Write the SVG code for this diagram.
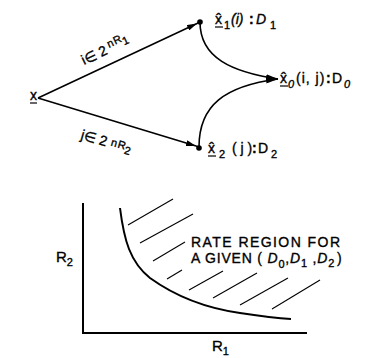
<svg xmlns="http://www.w3.org/2000/svg" width="368" height="358" viewBox="0 0 368 358">
<style>
text{font-family:"Liberation Sans",Arial,sans-serif;fill:#000;stroke:#000;stroke-width:0.35}
.lbl{font-size:14px}
.sub{font-size:11px}
.it{font-style:italic}
.edge{fill:none;stroke:#000;stroke-width:1.6}
.ax{fill:none;stroke:#000;stroke-width:2}
.hatch{stroke:#000;stroke-width:1.1}
.ul{stroke:#000;stroke-width:1.2}
</style>
<defs>
<marker id="ah" viewBox="0 0 10 6" refX="10" refY="3" markerWidth="10" markerHeight="6" markerUnits="userSpaceOnUse" orient="auto">
<path d="M0,0 L10,3 L0,6 Z" fill="#000"/>
</marker>
<marker id="ah2" viewBox="0 0 12 6" refX="12" refY="3" markerWidth="12" markerHeight="6" markerUnits="userSpaceOnUse" orient="auto">
<path d="M0,0 L12,3 L0,6 Z" fill="#000"/>
</marker>
</defs>
<g id="connectors">
<path class="edge" d="M38,98 L197,23.5" marker-end="url(#ah)"/>
<path class="edge" d="M197,23.5 L200,22"/>
<path class="edge" d="M38,98 L196,146" marker-end="url(#ah)"/>
<path class="edge" d="M196,146 L199,147"/>
<path class="edge" d="M200,22 C200,58 232,72 278,79" marker-end="url(#ah2)"/>
<path class="edge" d="M199,147 C199,105 225,86 278,79" marker-end="url(#ah2)"/>
<text class="lbl" transform="translate(84,65) rotate(-25)">i∈ 2<tspan dx="3" dy="-5" class="sub">n</tspan><tspan class="sub" dx="1">R</tspan><tspan class="sub" dy="4" font-size="9">1</tspan></text>
<text class="lbl" transform="translate(80,139) rotate(16)">j∈ 2<tspan dx="4" dy="-2" class="sub">n</tspan><tspan class="sub" dx="1">R</tspan><tspan class="sub" dy="4" font-size="9">2</tspan></text>
</g>
<g id="node-x">
<text class="lbl" x="30" y="100">x</text>
<line class="ul" x1="30" y1="103" x2="37" y2="103"/>
</g>
<g id="node-x1">
<circle cx="200" cy="22" r="2.8" fill="#000"/>
<text class="lbl" x="215" y="24">x̂</text>
<line class="ul" x1="215" y1="27" x2="223" y2="27"/>
<text class="lbl"><tspan class="sub" x="224" y="29">1</tspan><tspan class="it" x="231" y="24">(i)</tspan><tspan x="249" y="24" font-weight="bold">:</tspan><tspan class="it" x="256" y="24">D</tspan><tspan class="sub" x="270" y="29">1</tspan></text>
</g>
<g id="node-x0">
<text class="lbl" x="280" y="83">x̂</text>
<line class="ul" x1="280" y1="86" x2="288" y2="86"/>
<text class="lbl"><tspan class="sub it" x="288" y="88">0</tspan><tspan x="296" y="83" letter-spacing="1">(i, j)</tspan><tspan x="326" y="83" font-weight="bold">:</tspan><tspan x="332" y="83">D</tspan><tspan class="sub it" x="344" y="88">0</tspan></text>
</g>
<g id="node-x2">
<circle cx="199" cy="148" r="2.8" fill="#000"/>
<text class="lbl" x="208" y="153">x̂</text>
<line class="ul" x1="208" y1="156" x2="216" y2="156"/>
<text class="lbl"><tspan class="sub" x="219" y="158">2</tspan><tspan x="232" y="153">( j )</tspan><tspan x="252" y="153" font-weight="bold">:</tspan><tspan x="258" y="153">D</tspan><tspan class="sub" x="271" y="158">2</tspan></text>
</g>
<g id="chart">
<path class="ax" d="M83,203 L83,333 L307,333"/>
<path class="ax" d="M120,208 C124,240 130,262 150,278 C175,296 205,308 240,313 C260,316 275,318 291,319"/>
<line class="hatch" x1="128" y1="225" x2="173" y2="199"/>
<line class="hatch" x1="140" y1="243" x2="193" y2="214"/>
<line class="hatch" x1="153" y1="261" x2="185" y2="242"/>
<line class="hatch" x1="167" y1="279" x2="182" y2="270"/>
<line class="hatch" x1="189" y1="290" x2="223" y2="271"/>
<line class="hatch" x1="213" y1="298" x2="257" y2="273"/>
<line class="hatch" x1="240" y1="305" x2="288" y2="278"/>
<line class="hatch" x1="272" y1="309" x2="320" y2="280"/>
<text style="font-size:15px" x="56" y="262">R<tspan class="sub" dy="4">2</tspan></text>
<text style="font-size:15px" x="212" y="351">R<tspan class="sub" dy="4">1</tspan></text>
<text style="font-size:14px" x="191" y="247" textLength="149" lengthAdjust="spacing">RATE REGION FOR</text>
<text style="font-size:14px" x="191" y="263" letter-spacing="0.8">A GIVEN ( <tspan class="it">D</tspan><tspan class="sub" dy="5" font-size="12">0</tspan><tspan dy="-5">,</tspan><tspan class="it">D</tspan><tspan class="sub" dy="4" font-size="12">1</tspan><tspan dy="-4"> ,</tspan><tspan class="it">D</tspan><tspan class="sub" dy="4" font-size="12">2</tspan><tspan dy="-4" dx="2">)</tspan></text>
</g>
</svg>
